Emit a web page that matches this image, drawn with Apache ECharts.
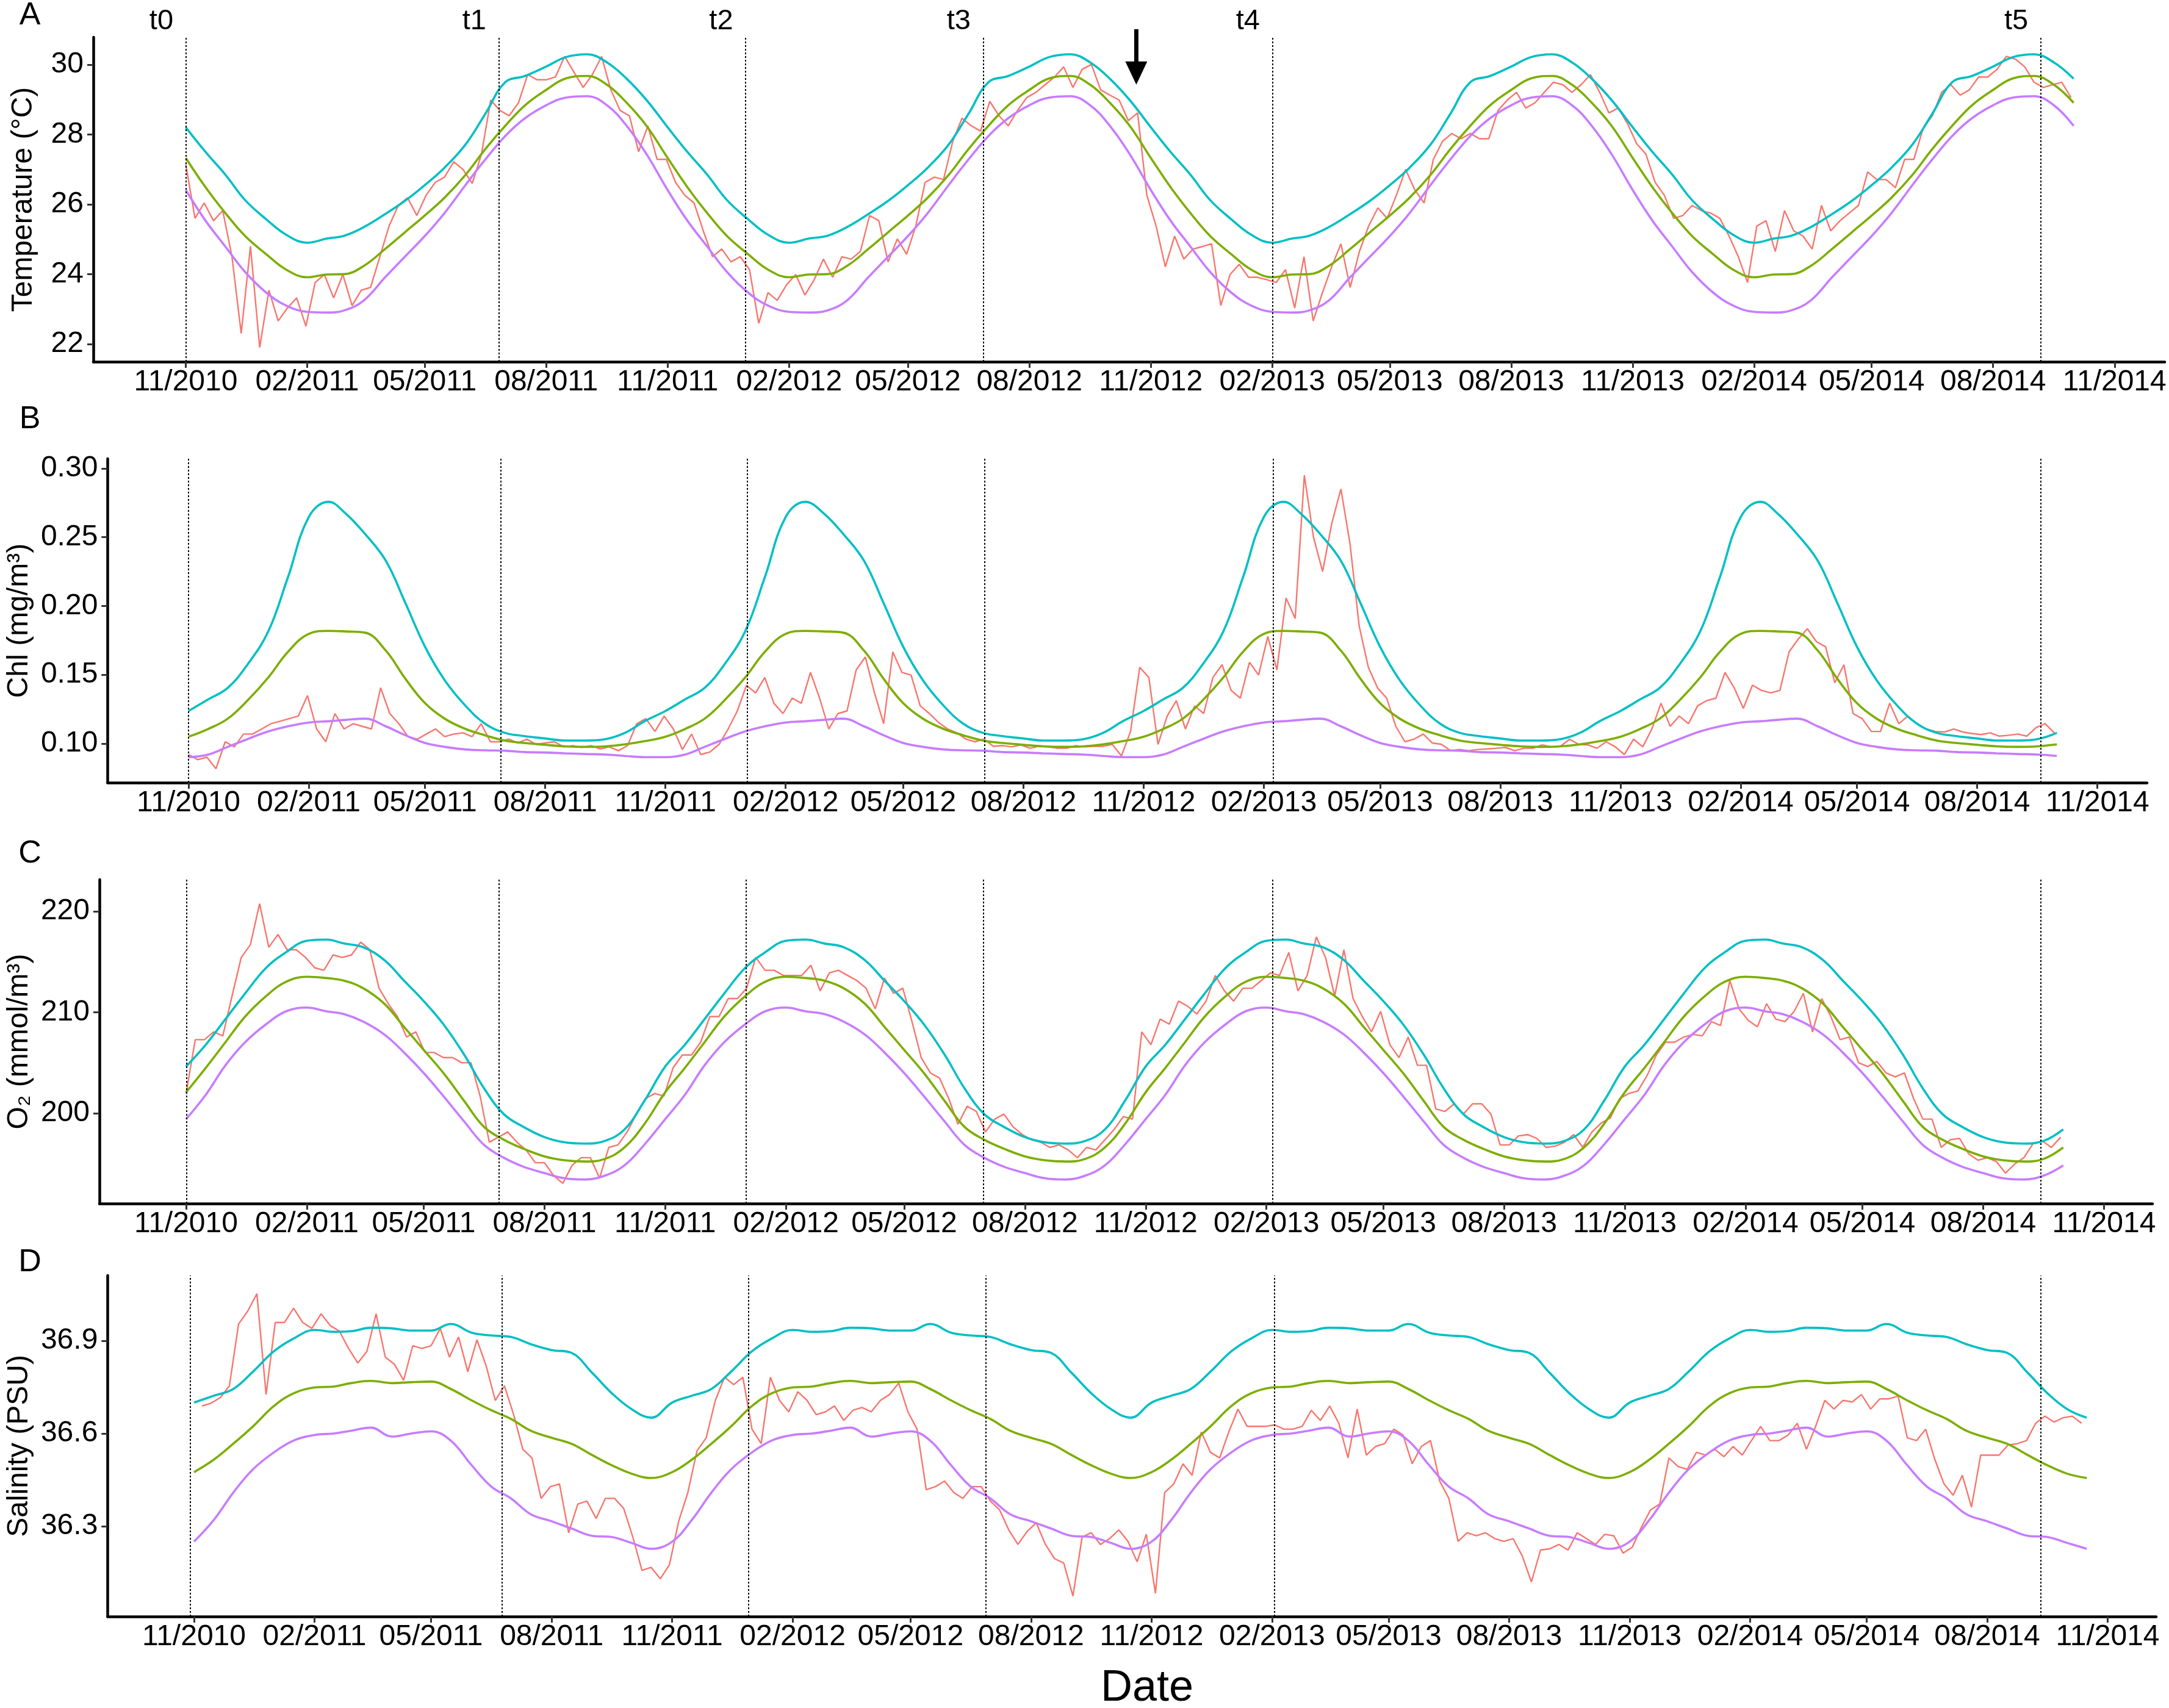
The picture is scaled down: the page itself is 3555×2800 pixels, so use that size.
<!DOCTYPE html>
<html>
<head>
<meta charset="utf-8">
<title>Temperature, Chl, O2 and salinity time series</title>
<script src="https://cdn.jsdelivr.net/npm/echarts@6/dist/echarts.min.js"></script>
<style>
  html, body { margin: 0; padding: 0; background: #fff; }
  #chart { width: 3555px; height: 2800px; }
</style>
</head>
<body>
<div id="chart"></div>
<script>
// ---- data ----
var xTickDates = ['2010-11-01', '2011-02-01', '2011-05-01', '2011-08-01', '2011-11-01', '2012-02-01',
  '2012-05-01', '2012-08-01', '2012-11-01', '2013-02-01', '2013-05-01', '2013-08-01', '2013-11-01',
  '2014-02-01', '2014-05-01', '2014-08-01', '2014-11-01'];

var eventNames = ['t0', 't1', 't2', 't3', 't4', 't5'];
var eventDates = ['2010-11-01', '2011-06-26', '2011-12-30', '2012-06-27', '2013-02-01', '2014-09-06'];

var arrowDate = '2012-10-21';
var arrowTop = 31.02, arrowTip = 29.43;

// climatology, read on the 1st and 16th of each month, Nov -> Oct
var tempUpper = [28.21, 27.5, 26.85, 26.12, 25.57, 25.13, 24.9, 25.02, 25.1, 25.35, 25.72, 26.1,
  26.55, 27.05, 27.72, 28.6, 29.5, 29.68, 29.95, 30.22, 30.3, 30.07, 29.6, 28.99];
var tempMean = [27.33, 26.49, 25.75, 25.09, 24.57, 24.13, 23.91, 23.99, 24.0, 24.24, 24.72, 25.2,
  25.68, 26.19, 26.85, 27.59, 28.25, 28.84, 29.28, 29.61, 29.68, 29.43, 28.91, 28.25];
var tempLower = [26.41, 25.53, 24.79, 24.06, 23.47, 23.1, 22.92, 22.9, 22.96, 23.25, 23.91, 24.5,
  25.09, 25.75, 26.56, 27.29, 27.96, 28.47, 28.84, 29.06, 29.1, 28.84, 28.25, 27.44];

var chlUpper = [0.1237, 0.1321, 0.1405, 0.1573, 0.1815, 0.2207, 0.2646, 0.2757, 0.2674, 0.2524, 0.2328, 0.202,
  0.1703, 0.1461, 0.1274, 0.1144, 0.1078, 0.1054, 0.1037, 0.1022, 0.1022, 0.1032, 0.1078, 0.1162];
var chlMean = [0.105, 0.1106, 0.1181, 0.1312, 0.148, 0.1666, 0.1797, 0.1819, 0.1815, 0.1806, 0.1675, 0.147,
  0.1293, 0.1181, 0.1106, 0.106, 0.1022, 0.1004, 0.0991, 0.098, 0.0976, 0.098, 0.0994, 0.1017];
var chlLower = [0.0901, 0.092, 0.0976, 0.1032, 0.1088, 0.1125, 0.1153, 0.1162, 0.1172, 0.1181, 0.1125, 0.106,
  0.1004, 0.0976, 0.0957, 0.0951, 0.0948, 0.0938, 0.0935, 0.0929, 0.0924, 0.092, 0.091, 0.0901];

var o2Upper = [204.63, 206.79, 209.33, 211.87, 214.41, 215.93, 217.08, 217.2, 216.82, 216.44, 215.17, 213.14,
  211.11, 208.82, 205.77, 202.47, 199.92, 198.65, 197.64, 197.13, 197.0, 197.26, 198.4, 201.19];
var o2Mean = [202.08, 204.5, 207.04, 209.58, 211.61, 213.01, 213.52, 213.39, 213.14, 212.38, 210.85, 208.56,
  206.28, 203.99, 201.19, 198.65, 197.38, 196.49, 195.73, 195.35, 195.22, 195.48, 196.62, 198.91];
var o2Lower = [199.42, 201.83, 204.75, 207.04, 208.82, 210.09, 210.47, 210.09, 209.83, 209.07, 207.8, 206.02,
  203.99, 201.7, 199.16, 196.87, 195.6, 194.71, 194.08, 193.57, 193.44, 193.82, 194.84, 196.87];

var salUpper = [36.70, 36.722, 36.744, 36.80, 36.866, 36.907, 36.935, 36.929, 36.931, 36.942, 36.94, 36.933,
  36.933, 36.954, 36.926, 36.917, 36.912, 36.889, 36.87, 36.861, 36.796, 36.73, 36.679, 36.651];
var salMean = [36.475, 36.515, 36.567, 36.623, 36.689, 36.73, 36.749, 36.752, 36.763, 36.77, 36.763, 36.766,
  36.768, 36.744, 36.707, 36.675, 36.647, 36.609, 36.586, 36.567, 36.53, 36.497, 36.47, 36.456];
var salLower = [36.25, 36.32, 36.409, 36.484, 36.539, 36.577, 36.595, 36.6, 36.609, 36.619, 36.59, 36.6,
  36.607, 36.577, 36.497, 36.428, 36.39, 36.339, 36.316, 36.293, 36.269, 36.265, 36.246, 36.227];

// observed series, one value per week from the start date
var tempObsStart = '2010-11-01';
var tempObs = [27.15, 25.6, 26.04, 25.53, 25.82, 24.5, 22.3, 24.8, 21.9, 23.54,
  22.66, 23.03, 23.32, 22.51, 23.76, 23.99, 23.32, 23.99, 23.1, 23.54,
  23.62, 24.5, 25.38, 25.97, 26.19, 25.68, 26.26, 26.63, 26.78, 27.22,
  27.0, 26.6, 27.44, 28.99, 28.69, 28.54, 28.91, 29.72, 29.57, 29.57,
  29.65, 30.24, 29.79, 29.35, 29.72, 30.24, 29.28, 28.69, 28.54, 27.51,
  28.25, 27.29, 27.29, 26.63, 26.26, 26.04, 25.24, 24.5, 24.72, 24.35,
  24.5, 24.13, 22.59, 23.47, 23.25, 23.69, 23.99, 23.4, 23.84, 24.43,
  23.91, 24.5, 24.43, 24.65, 25.68, 25.53, 24.35, 25.01, 24.57, 25.38,
  26.63, 26.78, 26.71, 27.81, 28.47, 28.25, 28.1, 28.95, 28.54, 28.25,
  28.69, 29.06, 29.21, 29.43, 29.65, 29.94, 29.35, 29.87, 30.01, 29.28,
  29.13, 28.99, 28.4, 28.62, 26.26, 25.38, 24.21, 25.09, 24.43, 24.72,
  24.79, 24.87, 23.1, 23.99, 24.28, 23.91, 23.91, 23.84, 23.76, 24.13,
  23.03, 24.5, 22.66, 23.47, 24.21, 24.87, 23.62, 24.65, 25.38, 25.9,
  25.6, 26.26, 27.0, 26.41, 26.04, 27.29, 27.81, 28.03, 27.88, 28.03,
  27.88, 27.88, 28.69, 28.99, 29.21, 28.76, 28.91, 29.21, 29.5, 29.43,
  29.21, 29.43, 29.72, 29.21, 28.62, 28.76, 28.32, 27.74, 27.44, 26.63,
  26.26, 25.6, 25.68, 25.97, 25.82, 25.75, 25.6, 25.09, 24.5, 23.76,
  25.38, 25.53, 24.65, 25.82, 25.24, 25.09, 24.72, 25.97, 25.24, 25.53,
  25.75, 25.97, 26.93, 26.71, 26.71, 26.48, 27.29, 27.29, 28.18, 28.54,
  29.21, 29.43, 29.13, 29.28, 29.65, 29.65, 29.87, 30.24, 30.16, 29.94,
  29.5, 29.35, 29.43, 29.5, 29.06];

var chlObsStart = '2010-11-01';
var chlObs = [0.092, 0.0883, 0.0901, 0.0817, 0.1013, 0.0976, 0.1069, 0.1069, 0.1106, 0.1144,
  0.1162, 0.1181, 0.12, 0.1349, 0.1106, 0.1013, 0.1218, 0.1106, 0.1144, 0.1125,
  0.1106, 0.1405, 0.1218, 0.1144, 0.105, 0.1032, 0.1069, 0.1106, 0.105, 0.1069,
  0.1078, 0.105, 0.1144, 0.1013, 0.1013, 0.1032, 0.1004, 0.1032, 0.0994, 0.1004,
  0.1013, 0.0976, 0.0985, 0.0972, 0.0985, 0.0961, 0.0976, 0.0948, 0.0985, 0.1144,
  0.1181, 0.1088, 0.12, 0.1106, 0.0957, 0.1069, 0.092, 0.0938, 0.0994, 0.1106,
  0.1237, 0.1424, 0.1368, 0.148, 0.1293, 0.1218, 0.133, 0.1293, 0.1517, 0.133,
  0.1106, 0.1218, 0.1237, 0.1535, 0.1629, 0.1368, 0.1144, 0.1666, 0.1517, 0.1498,
  0.1274, 0.1218, 0.1153, 0.1106, 0.1078, 0.1032, 0.1013, 0.1032, 0.098, 0.0985,
  0.0976, 0.099, 0.0966, 0.098, 0.0976, 0.0966, 0.0966, 0.0985, 0.0976, 0.098,
  0.098, 0.0994, 0.091, 0.1088, 0.1554, 0.148, 0.0994, 0.12, 0.1312, 0.1106,
  0.1274, 0.1218, 0.148, 0.1573, 0.1386, 0.133, 0.1591, 0.1498, 0.1778, 0.1535,
  0.2058, 0.1909, 0.295, 0.25, 0.225, 0.26, 0.285, 0.245, 0.1853, 0.1554,
  0.1405, 0.133, 0.1125, 0.1013, 0.1032, 0.1069, 0.1004, 0.0994, 0.0948, 0.0957,
  0.0948, 0.0957, 0.0961, 0.0966, 0.0972, 0.0948, 0.0966, 0.0966, 0.099, 0.0976,
  0.098, 0.1032, 0.0994, 0.099, 0.0966, 0.1013, 0.0976, 0.092, 0.1032, 0.0976,
  0.1106, 0.1293, 0.1125, 0.12, 0.1144, 0.1274, 0.1312, 0.133, 0.1517, 0.1405,
  0.1256, 0.1424, 0.1386, 0.1368, 0.1386, 0.1666, 0.1759, 0.1834, 0.174, 0.1703,
  0.1442, 0.1573, 0.1218, 0.1181, 0.1088, 0.1088, 0.1293, 0.1144, 0.12, 0.1144,
  0.1106, 0.1088, 0.1084, 0.1106, 0.1084, 0.1073, 0.1065, 0.1078, 0.1054, 0.106,
  0.1069, 0.1054, 0.1116, 0.1144, 0.1078];

var o2ObsStart = '2010-11-01';
var o2Obs = [201.96, 207.29, 207.29, 208.06, 207.67, 211.61, 215.43, 216.7, 220.76, 216.44,
  217.71, 216.19, 216.19, 215.43, 214.41, 214.16, 215.68, 215.43, 215.68, 216.95,
  216.19, 212.38, 210.85, 209.58, 207.55, 208.06, 206.02, 206.02, 205.51, 205.51,
  205.01, 205.01, 201.7, 197.13, 197.64, 198.15, 197.13, 196.37, 195.1, 195.1,
  193.82, 193.06, 194.84, 195.6, 195.6, 193.57, 196.62, 196.87, 198.15, 199.92,
  201.45, 201.96, 201.7, 204.5, 205.77, 205.77, 207.04, 209.58, 209.58, 211.36,
  211.36, 212.38, 215.43, 214.16, 214.16, 213.65, 213.65, 213.65, 214.66, 212.12,
  213.9, 214.16, 213.65, 213.14, 212.38, 210.34, 213.39, 211.87, 212.38, 209.07,
  205.51, 203.99, 203.48, 201.45, 198.91, 200.69, 200.18, 198.15, 199.42, 199.92,
  198.65, 197.89, 197.38, 197.13, 196.62, 196.87, 196.37, 195.6, 196.62, 196.37,
  197.38, 198.4, 199.67, 199.42, 208.06, 206.79, 209.33, 208.82, 211.11, 210.6,
  209.83, 211.11, 213.65, 212.12, 211.11, 212.38, 212.38, 213.14, 213.9, 213.65,
  215.93, 212.12, 213.65, 217.46, 215.43, 211.61, 216.19, 211.36, 209.58, 208.06,
  210.09, 206.79, 205.51, 207.55, 204.75, 204.75, 200.43, 200.18, 200.94, 199.92,
  200.94, 200.94, 199.92, 196.87, 196.87, 197.76, 197.89, 197.51, 196.62, 196.75,
  197.13, 197.89, 196.62, 198.15, 199.03, 199.54, 201.45, 201.96, 202.21, 203.74,
  205.77, 207.04, 207.04, 207.55, 207.8, 207.67, 209.07, 208.69, 213.14, 210.34,
  209.2, 208.56, 210.85, 209.33, 209.07, 210.09, 211.87, 208.06, 211.36, 209.58,
  207.29, 207.55, 205.01, 204.63, 205.13, 203.99, 203.61, 203.99, 201.45, 199.42,
  199.42, 196.62, 197.38, 197.51, 195.98, 195.35, 195.6, 195.22, 194.08, 194.97,
  195.6, 197.0, 197.26, 196.62, 197.64];

var salObsStart = '2010-11-07';
var salObs = [36.689, 36.698, 36.716, 36.754, 36.954, 36.996, 37.052, 36.726, 36.959, 36.959,
  37.005, 36.959, 36.94, 36.987, 36.949, 36.931, 36.875, 36.828, 36.866, 36.987,
  36.847, 36.824, 36.772, 36.884, 36.875, 36.884, 36.94, 36.847, 36.912, 36.8,
  36.903, 36.819, 36.707, 36.754, 36.661, 36.549, 36.521, 36.39, 36.428, 36.437,
  36.279, 36.372, 36.381, 36.325, 36.39, 36.39, 36.358, 36.265, 36.157, 36.167,
  36.13, 36.176, 36.316, 36.409, 36.544, 36.586, 36.707, 36.782, 36.758, 36.782,
  36.614, 36.567, 36.782, 36.707, 36.67, 36.735, 36.707, 36.661, 36.67, 36.689,
  36.642, 36.675, 36.684, 36.67, 36.707, 36.726, 36.763, 36.67, 36.614, 36.418,
  36.428, 36.446, 36.409, 36.39, 36.428, 36.428, 36.381, 36.353, 36.288, 36.241,
  36.283, 36.311, 36.241, 36.195, 36.181, 36.074, 36.265, 36.279, 36.241, 36.26,
  36.288, 36.251, 36.185, 36.274, 36.083, 36.409, 36.437, 36.502, 36.465, 36.605,
  36.539, 36.521, 36.605, 36.679, 36.623, 36.623, 36.623, 36.628, 36.614, 36.614,
  36.623, 36.675, 36.642, 36.689, 36.633, 36.521, 36.679, 36.53, 36.558, 36.567,
  36.614, 36.595, 36.502, 36.558, 36.577, 36.446, 36.39, 36.251, 36.279, 36.269,
  36.279, 36.26, 36.251, 36.26, 36.204, 36.12, 36.223, 36.227, 36.241, 36.223,
  36.279, 36.26, 36.241, 36.274, 36.269, 36.213, 36.232, 36.297, 36.353, 36.372,
  36.521, 36.493, 36.484, 36.539, 36.53, 36.549, 36.525, 36.558, 36.53, 36.577,
  36.623, 36.577, 36.577, 36.595, 36.633, 36.549, 36.623, 36.707, 36.679, 36.707,
  36.702, 36.726, 36.679, 36.712, 36.712, 36.721, 36.586, 36.577, 36.614, 36.516,
  36.437, 36.4, 36.465, 36.362, 36.53, 36.53, 36.53, 36.563, 36.567, 36.577,
  36.633, 36.656, 36.637, 36.651, 36.656, 36.633];

var tempTicks = [22, 24, 26, 28, 30];
var chlTicks = [0.10, 0.15, 0.20, 0.25, 0.30];
var o2Ticks = [200, 210, 220];
var salTicks = [36.3, 36.6, 36.9];

// ---- layout ----
var FONT = 'Liberation Sans';
var DAY = 86400000;
var COL = { obs: '#F8766D', upper: '#00BFC4', mean: '#7CAE00', lower: '#C77CFF' };

var panels = [
  { letter: 'A', grid: { left: 153, top: 61, width: 3395, height: 532 },
    xMin: '2010-08-23', xMax: '2014-12-09', yMin: 21.49, yMax: 30.79, ticks: tempTicks, digits: 0,
    name: 'Temperature (°C)', nameGap: 90, start: tempObsStart, obs: tempObs,
    upper: tempUpper, mean: tempMean, lower: tempLower },
  { letter: 'B', grid: { left: 172, top: 752, width: 3347, height: 531 },
    xMin: '2010-08-31', xMax: '2014-12-09', yMin: 0.0716, yMax: 0.307, ticks: chlTicks, digits: 2,
    name: 'Chl (mg/m³)', nameGap: 114, start: chlObsStart, obs: chlObs,
    upper: chlUpper, mean: chlMean, lower: chlLower },
  { letter: 'C', grid: { left: 162, top: 1442, width: 3366, height: 531 },
    xMin: '2010-08-27', xMax: '2014-12-08', yMin: 191.06, yMax: 223.14, ticks: o2Ticks, digits: 0,
    name: 'O₂ (mmol/m³)', nameGap: 99, start: o2ObsStart, obs: o2Obs,
    upper: o2Upper, mean: o2Mean, lower: o2Lower },
  { letter: 'D', grid: { left: 169, top: 2091, width: 3365, height: 559 },
    xMin: '2010-08-27', xMax: '2014-12-08', yMin: 36.008, yMax: 37.111, ticks: salTicks, digits: 1,
    name: 'Salinity (PSU)', nameGap: 111, start: salObsStart, obs: salObs,
    upper: salUpper, mean: salMean, lower: salLower }
];
var letterPos = [[49, 26], [49, 688], [49, 1400], [49, 2070]];

function ts(s) {
  var p = s.split('-');
  return new Date(+p[0], +p[1] - 1, +p[2]).getTime();
}

function pad2(n) { return (n < 10 ? '0' : '') + n; }

function obsData(start, vals) {
  var t0 = ts(start);
  return vals.map(function (v, i) { return [t0 + i * 7 * DAY, v]; });
}

// anchors on the 1st and 16th, Nov 2010 .. Oct 2015
function climAnchors() {
  var out = [];
  for (var y = 2010; y <= 2014; y++) {
    for (var k = 0; k < 24; k++) {
      var mi = 10 + Math.floor(k / 2);
      out.push({ t: new Date(y + Math.floor(mi / 12), mi % 12, k % 2 ? 16 : 1).getTime(), k: k });
    }
  }
  return out;
}

function climData(vals, s, e) {
  var a = climAnchors();
  var i0 = 0, i1 = a.length - 1;
  while (i0 + 1 < a.length && a[i0 + 1].t <= s) i0++;
  while (i1 - 1 >= 0 && a[i1 - 1].t >= e) i1--;
  return a.slice(i0, i1 + 1).map(function (o) { return [o.t, vals[o.k]]; });
}

var aMin = ts(panels[0].xMin), aMax = ts(panels[0].xMax);
var msPerPx = (aMax - aMin) / panels[0].grid.width;
var xTicks = xTickDates.map(ts);

function fmtMonth(v) {
  var d = new Date(v);
  return pad2(d.getMonth() + 1) + '/' + d.getFullYear();
}

var grids = [], xAxes = [], yAxes = [], series = [];

panels.forEach(function (p, i) {
  grids.push(p.grid);
  // dates are plotted as millisecond values on a value axis so ticks can sit on chosen months
  xAxes.push({
    type: 'value', gridIndex: i, min: ts(p.xMin), max: ts(p.xMax),
    axisLine: { onZero: false, lineStyle: { color: '#000', width: 4.5 } },
    axisTick: { customValues: xTicks, length: 10, lineStyle: { color: '#333', width: 3 } },
    axisLabel: { customValues: xTicks, margin: 10, color: '#000', fontSize: 48, fontFamily: FONT, formatter: fmtMonth },
    splitLine: { show: false }
  });
  // guide axis: same pixel scale as panel A, used for the event lines
  var gMin = aMin + (p.grid.left - panels[0].grid.left) * msPerPx;
  xAxes.push({ type: 'value', gridIndex: i, show: false, min: gMin, max: gMin + p.grid.width * msPerPx,
    splitLine: { show: false } });

  yAxes.push({
    type: 'value', gridIndex: i, min: p.yMin, max: p.yMax,
    name: p.name, nameLocation: 'middle', nameGap: p.nameGap, nameRotate: 90,
    nameTextStyle: { fontSize: 48, fontFamily: FONT, color: '#000' },
    axisLine: { show: true, lineStyle: { color: '#000', width: 4.5 } },
    axisTick: { show: true, customValues: p.ticks, length: 10, lineStyle: { color: '#333', width: 3 } },
    axisLabel: {
      customValues: p.ticks, margin: 16, color: '#000', fontSize: 48, fontFamily: FONT,
      formatter: (function (d) { return function (v) { return (+v).toFixed(d); }; })(p.digits)
    },
    splitLine: { show: false }
  });

  var xi = i * 2;
  var obs = obsData(p.start, p.obs);
  var s = obs[0][0], e = obs[obs.length - 1][0];

  series.push({
    type: 'line', xAxisIndex: xi + 1, yAxisIndex: i, data: [], symbol: 'none', silent: true,
    markLine: {
      silent: true, symbol: ['none', 'none'], label: { show: false },
      lineStyle: { color: '#000', width: 2, type: [3, 3] },
      data: eventDates.map(function (d) { return { xAxis: ts(d) }; })
    }
  });
  series.push({ type: 'line', xAxisIndex: xi, yAxisIndex: i, data: obs, symbol: 'none',
    lineStyle: { color: COL.obs, width: 2.4 }, z: 2 });
  [['lower', p.lower], ['mean', p.mean], ['upper', p.upper]].forEach(function (c) {
    series.push({ type: 'line', xAxisIndex: xi, yAxisIndex: i, data: climData(c[1], s, e),
      symbol: 'none', smooth: 0.4, lineStyle: { color: COL[c[0]], width: 3.6 }, z: 3 });
  });
});

var chart = echarts.init(document.getElementById('chart'), null, { renderer: 'canvas' });
chart.setOption({
  backgroundColor: '#fff',
  animation: false,
  textStyle: { fontFamily: FONT },
  grid: grids,
  xAxis: xAxes,
  yAxis: yAxes,
  series: series
});

// annotations placed through the axes of panel A
var graphics = [];
panels.forEach(function (p, i) {
  graphics.push({ type: 'text', x: letterPos[i][0], y: letterPos[i][1],
    style: { text: p.letter, fontSize: 52, fontFamily: FONT, fill: '#000', align: 'center', verticalAlign: 'middle' } });
});
eventDates.forEach(function (d, k) {
  var x = chart.convertToPixel({ xAxisIndex: 0 }, ts(d));
  graphics.push({ type: 'text', x: x - 40, y: 35,
    style: { text: eventNames[k], fontSize: 47, fontFamily: FONT, fill: '#000', align: 'center', verticalAlign: 'middle' } });
});
var ax = chart.convertToPixel({ xAxisIndex: 0 }, ts(arrowDate));
var ayTop = chart.convertToPixel({ yAxisIndex: 0 }, arrowTop);
var ayTip = chart.convertToPixel({ yAxisIndex: 0 }, arrowTip);
graphics.push({ type: 'line', shape: { x1: ax, y1: ayTop, x2: ax, y2: ayTip - 30 }, style: { stroke: '#000', lineWidth: 7 } });
graphics.push({ type: 'polygon', shape: { points: [[ax - 18, ayTip - 38], [ax + 18, ayTip - 38], [ax, ayTip]] }, style: { fill: '#000' } });
graphics.push({ type: 'text', x: 1880, y: 2768,
  style: { text: 'Date', fontSize: 72, fontFamily: FONT, fill: '#000', align: 'center', verticalAlign: 'middle' } });

chart.setOption({ graphic: graphics });
</script>
</body>
</html>
